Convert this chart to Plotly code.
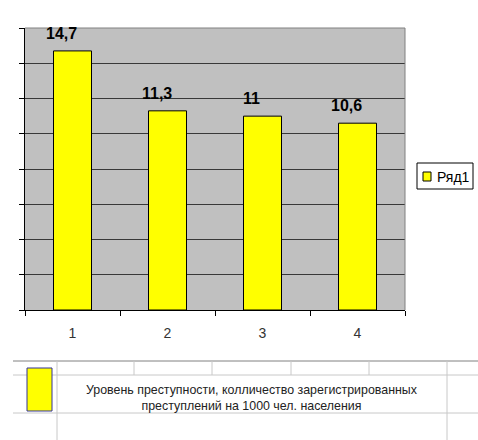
import plotly.graph_objects as go

categories = ["1", "2", "3", "4"]
values = [14.7, 11.3, 11.0, 10.6]
value_labels = ["14,7", "11,3", "11", "10,6"]
series_name = "Ряд1"
table_text = "Уровень преступности, колличество зарегистрированных<br>преступлений на 1000 чел. населения"

FONT = "Liberation Sans, Arial, sans-serif"
W, H = 478, 440
L, R, T, B = 25, 405, 28, 310


def px(x):
    return (x - L) / (R - L)


def py(y):
    return (B - y) / (B - T)


fig = go.Figure()
fig.add_trace(go.Bar(
    x=categories, y=values, name=series_name,
    marker=dict(color="#FFFF00", line=dict(color="#000000", width=1)),
    showlegend=False,
))

for i, (v, t) in enumerate(zip(values, value_labels)):
    fig.add_annotation(x=i, y=v, text="<b>%s</b>" % t, showarrow=False,
                       yanchor="bottom", yshift=7, xshift=-11,
                       font=dict(family=FONT, size=16, color="#000000"))

shapes = []


def line(x0, y0, x1, y1, color, width=1):
    shapes.append(dict(type="line", xref="paper", yref="paper",
                       x0=px(x0), y0=py(y0), x1=px(x1), y1=py(y1),
                       line=dict(color=color, width=width)))


def rect(x0, y0, x1, y1, fill, color):
    shapes.append(dict(type="rect", xref="paper", yref="paper",
                       x0=px(x0), y0=py(y0), x1=px(x1), y1=py(y1),
                       fillcolor=fill, line=dict(color=color, width=1)))


# plot area top / right border
line(L, T, R, T, "#808080")
line(R, T, R, B, "#808080")

# legend (drawn)
rect(417, 163, 473, 189, "#FFFFFF", "#000000")
rect(423, 172, 431, 181, "#FFFF00", "#000000")
fig.add_annotation(xref="paper", yref="paper", x=px(435), y=py(176.5),
                   text=series_name, showarrow=False, xanchor="left",
                   yanchor="middle",
                   font=dict(family=FONT, size=14, color="#000000"))

# data table grid
line(13, 361, 478, 361, "#808080")
line(13, 375, 478, 375, "#C8C8C8")
line(13, 413, 478, 413, "#C8C8C8")
line(57, 361, 57, 440, "#C8C8C8")
line(447, 361, 447, 440, "#C8C8C8")
for xv in (134, 212, 291, 369):
    line(xv, 361, xv, 375, "#C8C8C8")

rect(27, 368, 52, 411, "#FFFF00", "#333399")

fig.add_annotation(xref="paper", yref="paper", x=px(252), y=py(398),
                   text=table_text, showarrow=False, align="center",
                   xanchor="center", yanchor="middle",
                   font=dict(family=FONT, size=12.4, color="#222222"))

fig.update_layout(
    width=W, height=H,
    margin=dict(l=L, r=W - R, t=T, b=H - B, pad=0),
    paper_bgcolor="#FFFFFF",
    plot_bgcolor="#C0C0C0",
    bargap=0.6,
    shapes=shapes,
    showlegend=False,
    font=dict(family=FONT, color="#000000"),
    xaxis=dict(type="category", tickson="boundaries", ticks="outside",
               ticklen=5, tickcolor="#000000", showline=True,
               linecolor="#000000", linewidth=1, showgrid=False,
               tickfont=dict(family=FONT, size=14, color="#333333"),
               ticklabelstandoff=10, automargin=False),
    yaxis=dict(range=[0, 16], dtick=2, showticklabels=False, ticks="outside",
               ticklen=5, tickcolor="#000000", showline=True,
               linecolor="#000000", linewidth=1, showgrid=True,
               gridcolor="#383838", gridwidth=1, zeroline=False,
               automargin=False),
)

fig.write_html("out.html",
               config={"displayModeBar": False, "staticPlot": True},
               post_script="document.body.style.margin='0';document.body.style.overflow='hidden';")
